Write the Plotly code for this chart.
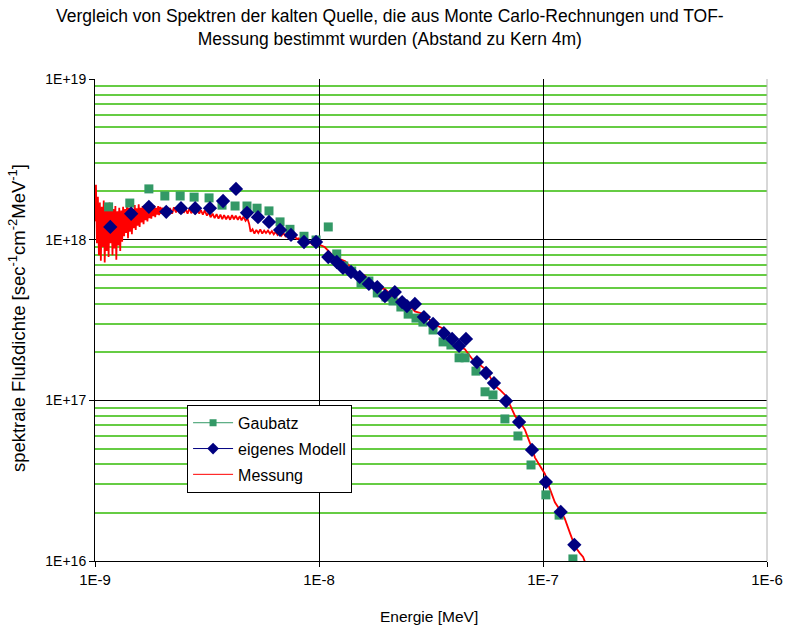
import plotly.graph_objects as go

# --- Gaubatz (Monte Carlo) ---
gaubatz_energy = [
    1.15e-9, 1.43e-9, 1.74e-9, 2.05e-9, 2.40e-9, 2.77e-9, 3.23e-9, 3.69e-9, 4.22e-9, 4.77e-9,
    5.29e-9, 5.98e-9, 6.70e-9, 7.42e-9, 8.57e-9, 9.70e-9, 1.10e-8, 1.20e-8, 1.29e-8, 1.40e-8,
    1.54e-8, 1.67e-8, 1.82e-8, 1.99e-8, 2.14e-8, 2.32e-8, 2.50e-8, 2.71e-8, 2.91e-8, 3.23e-8,
    3.58e-8, 3.88e-8, 4.22e-8, 4.49e-8, 5.02e-8, 5.51e-8, 5.98e-8, 6.76e-8, 7.73e-8, 8.84e-8,
    1.03e-7, 1.18e-7, 1.36e-7,
]
gaubatz_flux = [
    1.60e18, 1.69e18, 2.07e18, 1.87e18, 1.87e18, 1.84e18, 1.82e18, 1.64e18, 1.62e18, 1.62e18,
    1.57e18, 1.51e18, 1.29e18, 1.16e18, 1.05e18, 9.95e17, 1.20e18, 8.15e17, 6.86e17, 6.38e17,
    5.37e17, 5.53e17, 4.66e17, 4.40e17, 4.15e17, 3.81e17, 3.44e17, 3.25e17, 3.07e17, 2.74e17,
    2.31e17, 2.21e17, 1.84e17, 1.84e17, 1.52e17, 1.13e17, 1.08e17, 7.66e16, 6.00e16, 3.96e16,
    2.58e16, 1.93e16, 1.03e16,
]

# --- eigenes Modell ---
modell_energy = [
    1.17e-9, 1.45e-9, 1.74e-9, 2.08e-9, 2.42e-9, 2.80e-9, 3.26e-9, 3.73e-9, 4.26e-9, 4.77e-9,
    5.34e-9, 5.98e-9, 6.70e-9, 7.50e-9, 8.57e-9, 9.70e-9, 1.10e-8, 1.20e-8, 1.28e-8, 1.39e-8,
    1.52e-8, 1.67e-8, 1.82e-8, 1.97e-8, 2.18e-8, 2.35e-8, 2.47e-8, 2.68e-8, 2.94e-8, 3.23e-8,
    3.61e-8, 3.93e-8, 4.22e-8, 4.53e-8, 5.07e-8, 5.57e-8, 6.04e-8, 6.84e-8, 7.82e-8, 8.93e-8,
    1.03e-7, 1.20e-7, 1.38e-7,
]
modell_flux = [
    1.20e18, 1.45e18, 1.60e18, 1.49e18, 1.57e18, 1.57e18, 1.57e18, 1.74e18, 2.07e18, 1.47e18,
    1.38e18, 1.29e18, 1.15e18, 1.07e18, 9.67e17, 9.67e17, 7.80e17, 7.26e17, 6.67e17, 6.29e17,
    5.86e17, 5.30e17, 5.07e17, 4.46e17, 4.72e17, 4.09e17, 3.86e17, 3.98e17, 3.30e17, 2.99e17,
    2.62e17, 2.41e17, 2.18e17, 2.41e17, 1.73e17, 1.48e17, 1.28e17, 9.90e16, 7.33e16, 4.91e16,
    3.10e16, 2.02e16, 1.26e16,
]

# --- Messung (TOF) ---
messung_energy = [
    1.000e-9, 1.010e-9, 1.020e-9, 1.030e-9, 1.041e-9, 1.051e-9, 1.062e-9, 1.072e-9, 1.083e-9, 1.094e-9,
    1.105e-9, 1.116e-9, 1.127e-9, 1.138e-9, 1.150e-9, 1.161e-9, 1.173e-9, 1.185e-9, 1.197e-9, 1.209e-9,
    1.221e-9, 1.233e-9, 1.245e-9, 1.258e-9, 1.270e-9, 1.283e-9, 1.296e-9, 1.309e-9, 1.322e-9, 1.335e-9,
    1.349e-9, 1.362e-9, 1.376e-9, 1.390e-9, 1.404e-9, 1.418e-9, 1.432e-9, 1.446e-9, 1.461e-9, 1.475e-9,
    1.490e-9, 1.505e-9, 1.520e-9, 1.535e-9, 1.551e-9, 1.567e-9, 1.582e-9, 1.598e-9, 1.614e-9, 1.631e-9,
    1.647e-9, 1.664e-9, 1.680e-9, 1.697e-9, 1.714e-9, 1.732e-9, 1.749e-9, 1.767e-9, 1.784e-9, 1.802e-9,
    1.820e-9, 1.839e-9, 1.857e-9, 1.876e-9, 1.895e-9, 1.914e-9, 1.933e-9, 1.952e-9, 1.972e-9, 1.992e-9,
    2.04e-9, 2.08e-9, 2.12e-9, 2.16e-9, 2.21e-9, 2.25e-9, 2.30e-9, 2.34e-9, 2.39e-9, 2.44e-9,
    2.49e-9, 2.54e-9, 2.59e-9, 2.64e-9, 2.69e-9, 2.75e-9, 2.80e-9, 2.86e-9, 2.92e-9, 2.97e-9,
    3.03e-9, 3.09e-9, 3.16e-9, 3.22e-9, 3.28e-9, 3.35e-9, 3.42e-9, 3.49e-9, 3.56e-9, 3.63e-9,
    3.70e-9, 3.77e-9, 3.85e-9, 3.93e-9, 4.01e-9, 4.09e-9, 4.17e-9, 4.25e-9, 4.34e-9, 4.43e-9,
    4.51e-9, 4.60e-9, 4.70e-9, 4.79e-9, 4.88e-9, 4.95e-9, 5.05e-9, 5.15e-9, 5.25e-9, 5.36e-9,
    5.47e-9, 5.58e-9, 5.69e-9, 5.80e-9, 5.92e-9, 6.04e-9, 6.16e-9, 6.28e-9, 6.41e-9, 6.53e-9,
    6.67e-9, 6.80e-9, 6.94e-9, 7.08e-9, 7.22e-9, 7.36e-9, 7.51e-9, 7.66e-9, 7.81e-9, 7.97e-9,
    8.13e-9, 8.29e-9, 8.46e-9, 8.63e-9, 8.80e-9, 8.98e-9, 9.16e-9, 9.34e-9, 9.53e-9, 9.72e-9,
    9.91e-9, 1.01e-8, 1.06e-8, 1.12e-8, 1.18e-8, 1.24e-8, 1.31e-8, 1.38e-8, 1.45e-8, 1.52e-8,
    1.60e-8, 1.69e-8, 1.78e-8, 1.87e-8, 1.97e-8, 2.07e-8, 2.18e-8, 2.30e-8, 2.42e-8, 2.55e-8,
    2.68e-8, 2.82e-8, 2.97e-8, 3.13e-8, 3.30e-8, 3.47e-8, 3.66e-8, 3.85e-8, 4.05e-8, 4.26e-8,
    4.48e-8, 4.72e-8, 4.97e-8, 5.23e-8, 5.51e-8, 5.80e-8, 6.11e-8, 6.43e-8, 6.77e-8, 7.13e-8,
    7.50e-8, 7.90e-8, 8.31e-8, 8.75e-8, 9.21e-8, 9.70e-8, 1.02e-7, 1.07e-7, 1.13e-7, 1.19e-7,
    1.25e-7, 1.32e-7, 1.39e-7, 1.46e-7, 1.51e-7, 1.56e-7,
]
messung_flux = [
    1.30e18, 2.20e18, 0.95e18, 1.85e18, 0.80e18, 1.70e18, 0.74e18, 1.60e18, 0.90e18, 1.75e18,
    0.72e18, 1.55e18, 0.85e18, 1.65e18, 0.78e18, 1.70e18, 0.95e18, 1.60e18, 0.80e18, 1.55e18,
    0.88e18, 1.62e18, 0.75e18, 1.50e18, 0.92e18, 1.58e18, 0.85e18, 1.52e18, 0.97e18, 1.60e18,
    1.05e18, 1.55e18, 1.10e18, 1.65e18, 1.02e18, 1.58e18, 1.12e18, 1.62e18, 1.08e18, 1.55e18,
    1.18e18, 1.64e18, 1.15e18, 1.57e18, 1.22e18, 1.66e18, 1.20e18, 1.58e18, 1.28e18, 1.62e18,
    1.25e18, 1.60e18, 1.32e18, 1.64e18, 1.30e18, 1.58e18, 1.36e18, 1.62e18, 1.35e18, 1.60e18,
    1.40e18, 1.63e18, 1.38e18, 1.58e18, 1.43e18, 1.62e18, 1.42e18, 1.60e18, 1.45e18, 1.58e18,
    1.46e18, 1.60e18, 1.47e18, 1.57e18, 1.45e18, 1.59e18, 1.48e18, 1.56e18, 1.46e18, 1.58e18,
    1.47e18, 1.55e18, 1.45e18, 1.57e18, 1.46e18, 1.54e18, 1.44e18, 1.55e18, 1.45e18, 1.53e18,
    1.43e18, 1.52e18, 1.41e18, 1.48e18, 1.38e18, 1.45e18, 1.36e18, 1.44e18, 1.35e18, 1.43e18,
    1.34e18, 1.42e18, 1.34e18, 1.41e18, 1.33e18, 1.42e18, 1.34e18, 1.41e18, 1.33e18, 1.40e18,
    1.32e18, 1.39e18, 1.31e18, 1.36e18, 1.25e18, 1.12e18, 1.16e18, 1.09e18, 1.15e18, 1.10e18,
    1.16e18, 1.09e18, 1.14e18, 1.10e18, 1.14e18, 1.09e18, 1.13e18, 1.08e18, 1.12e18, 1.07e18,
    1.11e18, 1.06e18, 1.10e18, 1.05e18, 1.08e18, 1.04e18, 1.06e18, 1.03e18, 1.04e18, 1.01e18,
    1.02e18, 0.99e18, 1.00e18, 0.97e18, 0.98e18, 0.95e18, 0.96e18, 0.93e18, 0.94e18, 0.91e18,
    9.20e17, 9.27e17, 9.00e17, 8.26e17, 7.70e17, 7.58e17, 7.35e17, 6.76e17, 6.25e17, 6.11e17,
    5.97e17, 5.53e17, 5.12e17, 5.00e17, 4.92e17, 4.59e17, 4.28e17, 4.21e17, 4.14e17, 3.86e17,
    3.58e17, 3.50e17, 3.42e17, 3.16e17, 2.93e17, 2.86e17, 2.74e17, 2.48e17, 2.25e17, 2.15e17,
    2.08e17, 1.89e17, 1.72e17, 1.66e17, 1.57e17, 1.40e17, 1.23e17, 1.16e17, 1.08e17, 9.35e16,
    8.00e16, 7.33e16, 6.55e16, 5.42e16, 4.40e16, 3.90e16, 3.48e16, 2.84e16, 2.32e16, 2.08e16,
    1.84e16, 1.49e16, 1.23e16, 1.12e16, 1.06e16, 9.40e15,
]

# Axis ticks
x_tickvals = [1e-9, 1e-8, 1e-7, 1e-6]
x_ticktext = ["1E-9", "1E-8", "1E-7", "1E-6"]
y_tickvals = [1e16, 1e17, 1e18, 1e19]
y_ticktext = ["1E+16", "1E+17", "1E+18", "1E+19"]

GREEN = "#339966"
NAVY = "#000080"
RED = "#FF0000"
GRID_GREEN = "#66CC44"
FONT = "Liberation Sans, Arial, sans-serif"

fig = go.Figure()

fig.add_trace(go.Scatter(
    x=messung_energy, y=messung_flux, mode="lines",
    line=dict(color=RED, width=1.8), showlegend=False, hoverinfo="skip",
))
fig.add_trace(go.Scatter(
    x=gaubatz_energy, y=gaubatz_flux, mode="markers",
    marker=dict(symbol="square", size=9, color=GREEN), showlegend=False,
))
fig.add_trace(go.Scatter(
    x=modell_energy, y=modell_flux, mode="markers",
    marker=dict(symbol="diamond", size=11, color=NAVY), showlegend=False,
))

# Legend entries (line + marker, as in the key)
fig.add_trace(go.Scatter(
    x=[None], y=[None], mode="lines+markers", name="Gaubatz", legendgroup="a",
    line=dict(color=GREEN, width=1), marker=dict(symbol="square", size=7, color=GREEN),
))
fig.add_trace(go.Scatter(
    x=[None], y=[None], mode="lines+markers", name="eigenes Modell", legendgroup="b",
    line=dict(color=NAVY, width=1), marker=dict(symbol="diamond", size=9, color=NAVY),
))
fig.add_trace(go.Scatter(
    x=[None], y=[None], mode="lines", name="Messung", legendgroup="c",
    line=dict(color=RED, width=1),
))

minor_y = [m * 10 ** e for e in (16, 17, 18) for m in range(2, 10)]

fig.update_layout(
    width=787, height=628,
    margin=dict(l=95, r=20, t=79, b=67),
    paper_bgcolor="white", plot_bgcolor="white",
    font=dict(family=FONT, size=14, color="black"),
    legend=dict(
        x=0.137, y=0.324, xanchor="left", yanchor="top",
        bgcolor="white", bordercolor="black", borderwidth=1,
        font=dict(family=FONT, size=16, color="black"),
        tracegroupgap=2, traceorder="grouped", itemwidth=40,
    ),
    xaxis=dict(
        type="log", range=[-9, -6], automargin=False,
        tickvals=x_tickvals, ticktext=x_ticktext,
        showgrid=True, gridcolor="black", gridwidth=1,
        showline=True, linecolor="black", linewidth=1,
        ticks="outside", ticklen=5, tickcolor="black",
        tickfont=dict(size=15),
        zeroline=False,
    ),
    yaxis=dict(
        type="log", range=[16, 19], automargin=False,
        tickvals=y_tickvals, ticktext=y_ticktext,
        showgrid=True, gridcolor="black", gridwidth=1,
        showline=True, linecolor="black", linewidth=1,
        ticks="outside", ticklen=5, tickcolor="black",
        tickfont=dict(size=14),
        minor=dict(tickvals=minor_y, showgrid=True, gridcolor=GRID_GREEN, gridwidth=1.5, ticks=""),
        zeroline=False,
    ),
    annotations=[
        dict(
            text="Vergleich von Spektren der kalten Quelle, die aus Monte Carlo-Rechnungen und TOF-<br>"
                 "Messung bestimmt wurden (Abstand zu Kern 4m)",
            xref="paper", yref="paper", x=0.439, y=1.106,
            xanchor="center", yanchor="middle", showarrow=False,
            font=dict(family=FONT, size=17.5, color="black"),
        ),
        dict(
            text="Energie [MeV]", xref="paper", yref="paper", x=0.497, y=-0.116,
            xanchor="center", yanchor="middle", showarrow=False,
            font=dict(family=FONT, size=15.5, color="black"),
        ),
        dict(
            text="spektrale Flußdichte [sec<sup>-1</sup>cm<sup>-2</sup>MeV<sup>-1</sup>]",
            xref="paper", yref="paper", x=-0.116, y=0.504, textangle=-90,
            xanchor="center", yanchor="middle", showarrow=False,
            font=dict(family=FONT, size=18.5, color="black"),
        ),
    ],
    shapes=[
        dict(type="line", xref="paper", yref="paper", x0=1, x1=1, y0=0, y1=1,
             line=dict(color="#B0B0B0", width=1)),
    ],
)

fig.write_html("out.html")
